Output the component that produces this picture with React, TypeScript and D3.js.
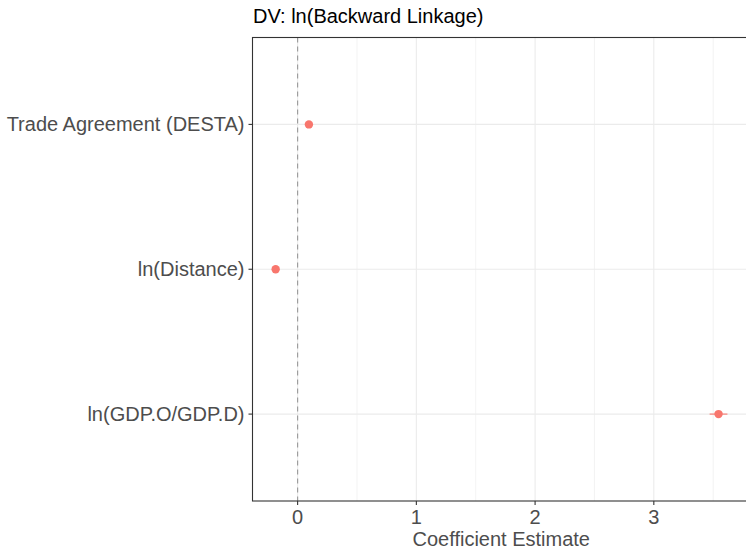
import React from 'react';
import * as d3 from 'd3';

// coefficient plot data (top to bottom)
const terms = ['Trade Agreement (DESTA)', 'ln(Distance)', 'ln(GDP.O/GDP.D)'];
const estimates = [0.095, -0.185, 3.545];
const ciLow = [0.07, -0.21, 3.47];
const ciHigh = [0.12, -0.16, 3.62];
const xTicks = [0, 1, 2, 3];
const xMinor = [0.5, 1.5, 2.5, 3.5];

const W = 746;
const H = 549;
const left = 252.5;
const top = 37.5;
const bottom = 501;
const right = 750;

const font = '"Liberation Sans", Arial, Helvetica, sans-serif';
const fs = 20;

export default function App() {
  const x = d3.scaleLinear().domain([-0.38, 3.81]).range([left, right]);
  const y = d3.scalePoint<string>().domain(terms).range([top, bottom]).padding(0.6);

  return (
    <svg
      width={W}
      height={H}
      style={{ position: 'absolute', left: 0, top: 0, fontFamily: font }}
    >
      <rect x={0} y={0} width={W} height={H} fill="#fff" />

      {/* grid */}
      {xMinor.map((v) => (
        <line key={'mn' + v} x1={x(v)} x2={x(v)} y1={top} y2={bottom} stroke="#EBEBEB" strokeWidth={0.6} />
      ))}
      {xTicks.map((v) => (
        <line key={'mj' + v} x1={x(v)} x2={x(v)} y1={top} y2={bottom} stroke="#EBEBEB" strokeWidth={1.1} />
      ))}
      {terms.map((t) => (
        <line key={'hy' + t} x1={left} x2={right} y1={y(t)} y2={y(t)} stroke="#EBEBEB" strokeWidth={1.1} />
      ))}

      {/* zero line */}
      <line x1={x(0)} x2={x(0)} y1={top} y2={bottom} stroke="#999" strokeWidth={1.1} strokeDasharray="5,4" />

      {/* error bars and points */}
      {terms.map((t, i) => (
        <g key={'pt' + t}>
          <line x1={x(ciLow[i])} x2={x(ciHigh[i])} y1={y(t)} y2={y(t)} stroke="#F8766D" strokeWidth={1.1} />
          <circle cx={x(estimates[i])} cy={y(t)} r={4.2} fill="#F8766D" />
        </g>
      ))}

      {/* panel border */}
      <rect x={left} y={top} width={right - left} height={bottom - top} fill="none" stroke="#333" strokeWidth={1.1} />

      {/* y axis ticks and labels */}
      {terms.map((t) => (
        <g key={'yl' + t}>
          <line x1={left - 4} x2={left} y1={y(t)} y2={y(t)} stroke="#333" strokeWidth={1.1} />
          <text x={left - 8} y={y(t)} dy="0.35em" textAnchor="end" fontSize={fs} fill="#4D4D4D">
            {t}
          </text>
        </g>
      ))}

      {/* x axis ticks and labels */}
      {xTicks.map((v) => (
        <g key={'xl' + v}>
          <line x1={x(v)} x2={x(v)} y1={bottom} y2={bottom + 4} stroke="#333" strokeWidth={1.1} />
          <text x={x(v)} y={523.5} textAnchor="middle" fontSize={fs} fill="#4D4D4D">
            {v}
          </text>
        </g>
      ))}

      <text x={(left + 746) / 2 + 2} y={545.5} textAnchor="middle" fontSize={fs} fill="#4D4D4D">
        Coefficient Estimate
      </text>

      <text x={253} y={23.3} fontSize={fs} fill="#000">
        DV: ln(Backward Linkage)
      </text>
    </svg>
  );
}
